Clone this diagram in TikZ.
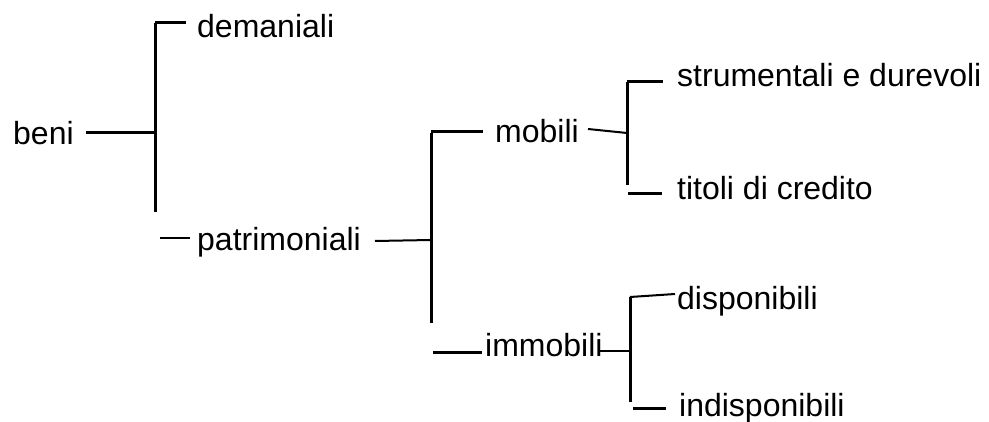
\documentclass[tikz,border=0pt]{standalone}
\usepackage{fontspec}
\setmainfont{Liberation Sans}
\begin{document}
\begin{tikzpicture}[x=1pt,y=-1pt,
  lbl/.style={anchor=base west,inner sep=0pt,font=\fontsize{32pt}{38pt}\selectfont},
  thick line/.style={line width=3pt},
  thin line/.style={line width=2pt},
  hair line/.style={line width=1.5pt}]
\useasboundingbox (0,0) rectangle (989,422);
% labels
\node[lbl] (beni) at (13,145) {beni};
\node[lbl] (dem) at (197,38) {demaniali};
\node[lbl] (pat) at (197,251) {patrimoniali};
\node[lbl] (mob) at (495,143) {mobili};
\node[lbl] (imm) at (485,357) {immobili};
\node[lbl] (str) at (677,87) {strumentali e durevoli};
\node[lbl] (tit) at (677,200) {titoli di credito};
\node[lbl] (dis) at (677,310) {disponibili};
\node[lbl] (ind) at (679,416) {indisponibili};
% connector points
\coordinate (b1a) at (86,133);  \coordinate (b1b) at (155,133);
\coordinate (v1t) at (155,23);  \coordinate (v1b) at (155,212);
\coordinate (d1a) at (155,23);  \coordinate (d1b) at (186,23);
\coordinate (p1a) at (160,238); \coordinate (p1b) at (190,238);
\coordinate (p2a) at (375,241); \coordinate (p2b) at (431,240);
\coordinate (v2t) at (431,133); \coordinate (v2b) at (431,323);
\coordinate (m1a) at (431,132); \coordinate (m1b) at (483,132);
\coordinate (m2a) at (588,129); \coordinate (m2b) at (627,133);
\coordinate (v3t) at (627,82);  \coordinate (v3b) at (627,185);
\coordinate (s1a) at (627,82);  \coordinate (s1b) at (663,82);
\coordinate (t1a) at (628,194); \coordinate (t1b) at (662,194);
\coordinate (i1a) at (433,353); \coordinate (i1b) at (482,353);
\coordinate (i2a) at (600,351); \coordinate (i2b) at (630,351);
\coordinate (v4t) at (630,297); \coordinate (v4b) at (630,402);
\coordinate (q1a) at (630,297); \coordinate (q1b) at (675,294);
\coordinate (n1a) at (633,408); \coordinate (n1b) at (666,408);
% connectors
\draw[thick line] (b1a) -- (b1b);
\draw[thick line] (v1t) -- (v1b);
\draw[thick line] (d1a) -- (d1b);
\draw[hair line] (p1a) -- (p1b);
\draw[thin line] (p2a) -- (p2b);
\draw[thick line] (v2t) -- (v2b);
\draw[thick line] (m1a) -- (m1b);
\draw[thin line] (m2a) -- (m2b);
\draw[thick line] (v3t) -- (v3b);
\draw[thick line] (s1a) -- (s1b);
\draw[thick line] (t1a) -- (t1b);
\draw[thick line] (i1a) -- (i1b);
\draw[thin line] (i2a) -- (i2b);
\draw[thick line] (v4t) -- (v4b);
\draw[thin line] (q1a) -- (q1b);
\draw[thick line] (n1a) -- (n1b);
\end{tikzpicture}
\end{document}
